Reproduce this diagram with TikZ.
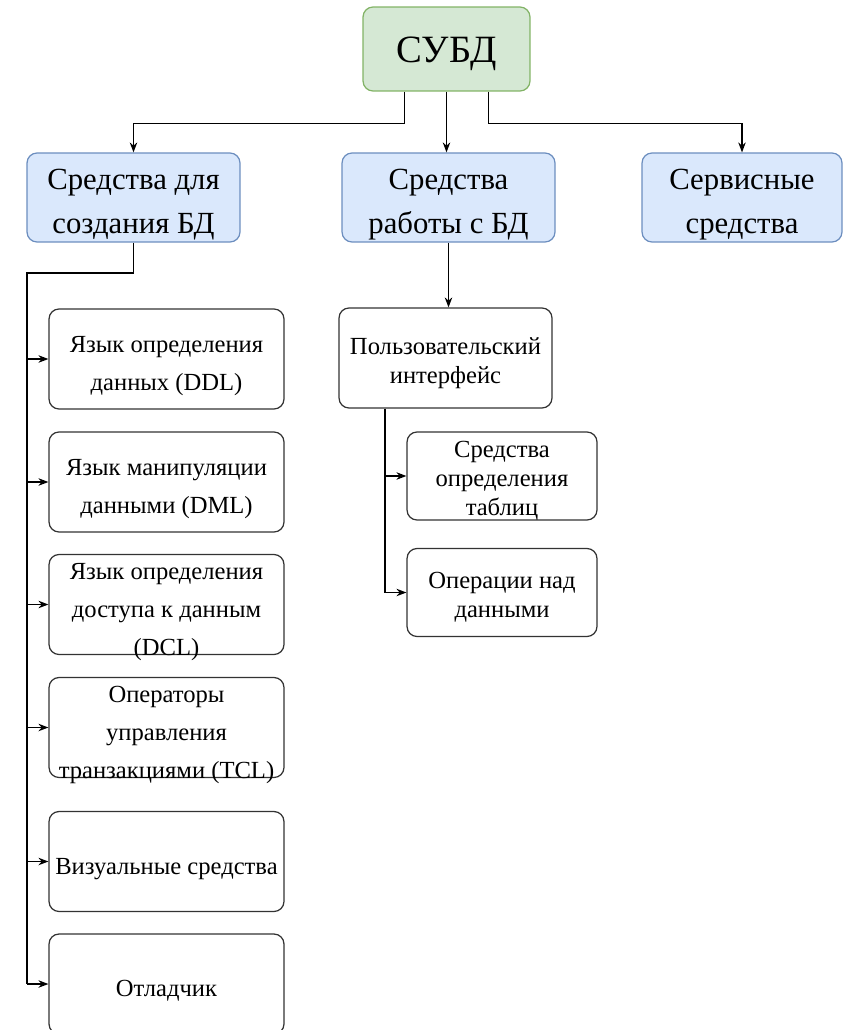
\documentclass[tikz,border=0pt]{standalone}
\usepackage{fontspec}
\usetikzlibrary{arrows.meta}
\setmainfont{Liberation Serif}
\newfontfamily\tnr{Liberation Serif}
\definecolor{rootfill}{HTML}{D5E8D4}
\definecolor{rootline}{HTML}{82B366}
\definecolor{topfill}{HTML}{DAE8FC}
\definecolor{topline}{HTML}{6C8EBF}
\definecolor{leafline}{HTML}{333333}
% text block, centred a little below the box centre; it may run over the border
\newsavebox\txtbox
\newcommand{\boxtext}[1]{\sbox\txtbox{\begin{tabular}{@{}c@{}}#1\end{tabular}}%
  \raisebox{\dimexpr(\dp\txtbox-\ht\txtbox)/2-0.1cm\relax}[0pt][0pt]{\usebox\txtbox}}
\tikzset{
  rootbox/.style={draw=rootline, fill=rootfill, rounded corners=0.2cm, inner sep=0pt,
    minimum width=3.34cm, minimum height=1.68cm, font=\tnr\fontsize{22}{25}\selectfont},
  topbox/.style={draw=topline, fill=topfill, rounded corners=0.2cm, inner sep=0pt,
    minimum width=4.26cm, minimum height=1.78cm, font=\tnr\fontsize{17.5}{25.5}\selectfont},
  leafbox/.style={draw=leafline, fill=white, rounded corners=0.2cm, inner sep=0pt,
    minimum width=4.7cm, minimum height=2cm, font=\tnr\fontsize{14}{21.6}\selectfont},
  subbox/.style={draw=leafline, fill=white, rounded corners=0.2cm, inner sep=0pt,
    minimum width=3.8cm, minimum height=1.76cm, font=\tnr\fontsize{14}{16.5}\selectfont}
}
\begin{document}
\begin{tikzpicture}[x=0.02cm, y=-0.02cm, >={Stealth[length=2mm, width=1.5mm]}, line width=0.7pt]
\useasboundingbox (0,0) rectangle (849,1030);
% top levels
\node[rootbox] (db) at (446.5,49) {\boxtext{СУБД}};
\node[topbox] (mk) at (133.5,197.5) {\boxtext{Средства для\\создания БД}};
\node[topbox] (wk) at (448.5,197.5) {\boxtext{Средства\\работы с БД}};
\node[topbox, minimum width=4cm] (sv) at (742,197.5) {\boxtext{Сервисные\\средства}};
% left column
\node[leafbox] (l1) at (166.5,359) {\boxtext{Язык определения\\данных (DDL)}};
\node[leafbox] (l2) at (166.5,482) {\boxtext{Язык манипуляции\\данными (DML)}};
\node[leafbox] (l3) at (166.5,604.5) {\boxtext{Язык определения\\доступа к данным\\(DCL)}};
\node[leafbox] (l4) at (166.5,727.5) {\boxtext{Операторы\\управления\\транзакциями (TCL)}};
\node[leafbox] (l5) at (166.5,861.5) {\boxtext{Визуальные средства}};
\node[leafbox] (l6) at (166.5,984) {\boxtext{Отладчик}};
% middle column
\node[leafbox, minimum width=4.26cm, font=\tnr\fontsize{14}{16.5}\selectfont] (ui) at (445.5,358) {\boxtext{Пользовательский\\интерфейс}};
\node[subbox] (tb) at (502,476) {\boxtext{Средства\\определения\\таблиц}};
\node[subbox] (op) at (502,592.5) {\boxtext{Операции над\\данными}};

\draw[->] ([xshift=-0.84cm]db.south) -- ++(0,32) -| (mk.north);
\draw[->] (db.south) -- (db.south |- wk.north);
\draw[->] ([xshift=0.84cm]db.south) -- ++(0,32) -| (sv.north);

\coordinate (spine) at (27,273);
\draw (mk.south) |- (spine) -- (spine |- l6.west);
\foreach \n in {l1,l2,l3,l4,l5,l6}
  \draw[->] (spine |- \n.west) -- (\n.west);

\draw[->] (wk.south) -- (wk.south |- ui.north);
\coordinate (uis) at ([xshift=-1.21cm]ui.south);
\draw (uis) -- (uis |- op.west);
\draw[->] (uis |- tb.west) -- (tb.west);
\draw[->] (uis |- op.west) -- (op.west);
\end{tikzpicture}
\end{document}
